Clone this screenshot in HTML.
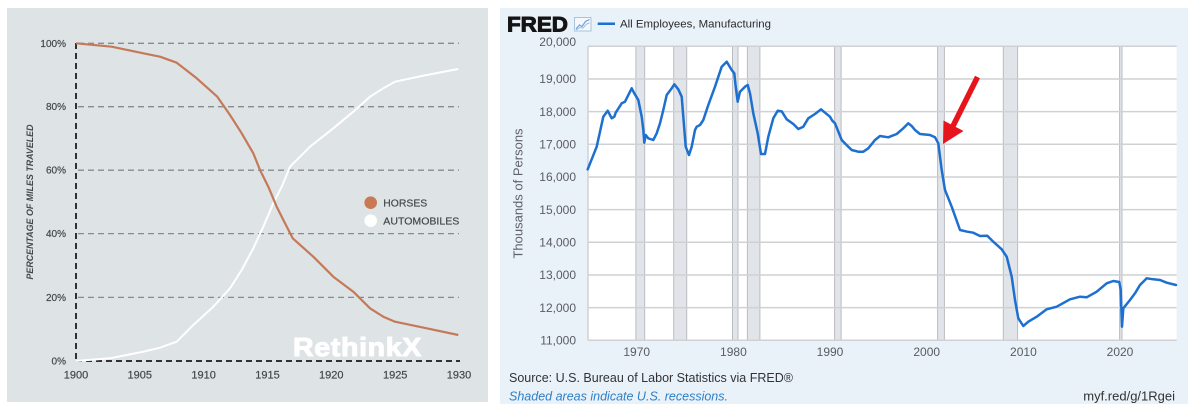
<!DOCTYPE html>
<html><head><meta charset="utf-8"><style>
html,body{margin:0;padding:0;background:#fff;}
svg{display:block;font-family:"Liberation Sans",Arial,sans-serif;}
</style></head><body>
<svg width="1200" height="412" viewBox="0 0 1200 412" xmlns="http://www.w3.org/2000/svg">
<!-- LEFT PANEL -->
<rect x="7" y="8" width="481" height="394" fill="#dee3e6"/>
<g stroke="#878c90" stroke-width="1.3" stroke-dasharray="6,4" fill="none">
<line x1="78" y1="43.3" x2="459" y2="43.3"/>
<line x1="78" y1="106.7" x2="459" y2="106.7"/>
<line x1="78" y1="170.2" x2="459" y2="170.2"/>
<line x1="78" y1="233.6" x2="459" y2="233.6"/>
<line x1="78" y1="297.4" x2="459" y2="297.4"/>
</g>
<g stroke="#2e3235" stroke-width="2" stroke-dasharray="6,4" fill="none">
<line x1="76" y1="43" x2="76" y2="361"/>
<line x1="76" y1="361" x2="460" y2="361"/>
</g>
<g fill="#45494d" font-size="10" text-anchor="end" stroke="#45494d" stroke-width="0.2">
<text x="66" y="46.8">100%</text>
<text x="66" y="110.2">80%</text>
<text x="66" y="173.7">60%</text>
<text x="66" y="237.1">40%</text>
<text x="66" y="300.9">20%</text>
<text x="66" y="364.5">0%</text>
</g>
<g fill="#45494d" font-size="11" text-anchor="middle" stroke="#45494d" stroke-width="0.2">
<text x="76" y="378.3">1900</text>
<text x="139.8" y="378.3">1905</text>
<text x="203.6" y="378.3">1910</text>
<text x="267.5" y="378.3">1915</text>
<text x="331.3" y="378.3">1920</text>
<text x="395.2" y="378.3">1925</text>
<text x="459" y="378.3">1930</text>
</g>
<text transform="translate(33,202) rotate(-90)" text-anchor="middle" font-size="8.9" font-weight="bold" font-style="italic" fill="#45494d">PERCENTAGE OF MILES TRAVELED</text>
<text x="293" y="356" font-size="26" font-weight="bold" fill="#ffffff" stroke="#ffffff" stroke-width="1" letter-spacing="0.6" textLength="129" lengthAdjust="spacingAndGlyphs">RethinkX</text>
<polyline fill="none" stroke="#ffffff" stroke-width="2" stroke-linejoin="round" points="76,361 110,358.3 143.3,351.7 160,347.7 176.7,341.7 193.3,325 213.3,306.7 230,288.3 241.7,270 253.3,248.3 263.3,226.7 273.3,203.3 281.7,186.7 290,166.7 310,146.7 333.3,128.3 353.3,111.7 370,96.7 383.3,88.3 395,81.7 426.7,75 458.3,69"/>
<polyline fill="none" stroke="#c47a58" stroke-width="2.2" stroke-linejoin="round" points="76,43.3 111.7,46.7 143.3,53.3 160,56.7 176.7,62.7 196.7,78.3 217.3,96.7 230,115 241.7,133.3 253.3,153.3 260,170 268.3,186.7 276.7,206.7 285,223.3 292.7,238.3 313.3,256.7 333.3,276.7 353.3,291.7 370,308.3 383.3,316.7 395,321.7 426.7,328.3 458.3,335"/>
<circle cx="370.7" cy="202.7" r="6.3" fill="#c87a55"/>
<circle cx="370.7" cy="220.7" r="6.3" fill="#ffffff"/>
<text x="383.3" y="206.5" font-size="10.4" fill="#45494d" stroke="#45494d" stroke-width="0.2">HORSES</text>
<text x="383.3" y="224.5" font-size="10.4" fill="#45494d" stroke="#45494d" stroke-width="0.2" textLength="76" lengthAdjust="spacingAndGlyphs">AUTOMOBILES</text>

<!-- RIGHT PANEL -->
<rect x="500" y="8" width="688" height="396" fill="#e9f1f9"/>
<rect x="588" y="46.3" width="588.7" height="294" fill="#ffffff"/>
<!-- recessions -->
<g fill="#e1e4e8" stroke="#b9bcc0" stroke-width="1">
<rect x="635.9" y="46.3" width="8.8" height="294"/>
<rect x="673.7" y="46.3" width="13" height="294"/>
<rect x="732.5" y="46.3" width="5.5" height="294"/>
<rect x="747.4" y="46.3" width="12.5" height="294"/>
<rect x="834.6" y="46.3" width="6.5" height="294"/>
<rect x="937.6" y="46.3" width="6.8" height="294"/>
<rect x="1003.3" y="46.3" width="14.3" height="294"/>
<rect x="1119.6" y="46.3" width="2.4" height="294"/>
</g>
<g stroke="#cfd1d4" stroke-width="1.5">
<line x1="588" y1="46.3" x2="1176.7" y2="46.3"/>
<line x1="588" y1="79" x2="1176.7" y2="79"/>
<line x1="588" y1="111.6" x2="1176.7" y2="111.6"/>
<line x1="588" y1="144.3" x2="1176.7" y2="144.3"/>
<line x1="588" y1="177" x2="1176.7" y2="177"/>
<line x1="588" y1="209.6" x2="1176.7" y2="209.6"/>
<line x1="588" y1="242.3" x2="1176.7" y2="242.3"/>
<line x1="588" y1="275" x2="1176.7" y2="275"/>
<line x1="588" y1="307.6" x2="1176.7" y2="307.6"/>
<line x1="588" y1="340.3" x2="1176.7" y2="340.3"/>
<line x1="588" y1="46.3" x2="588" y2="340.3"/>
</g>
<g fill="#5a5d61" font-size="12" text-anchor="end">
<text x="576" y="46">20,000</text>
<text x="576" y="83.2">19,000</text>
<text x="576" y="115.8">18,000</text>
<text x="576" y="148.5">17,000</text>
<text x="576" y="181.2">16,000</text>
<text x="576" y="213.8">15,000</text>
<text x="576" y="246.5">14,000</text>
<text x="576" y="279.2">13,000</text>
<text x="576" y="311.8">12,000</text>
<text x="576" y="344.5">11,000</text>
</g>
<g fill="#5a5d61" font-size="12" text-anchor="middle">
<text x="636.7" y="356">1970</text>
<text x="733.4" y="356">1980</text>
<text x="830" y="356">1990</text>
<text x="926.7" y="356">2000</text>
<text x="1023.4" y="356">2010</text>
<text x="1120" y="356">2020</text>
</g>
<text transform="translate(522.5,193.5) rotate(-90)" text-anchor="middle" font-size="13" fill="#606367">Thousands of Persons</text>
<polyline fill="none" stroke="#1d6fd0" stroke-width="2.5" stroke-linejoin="round" stroke-linecap="round" points="587.7,169.3 596.7,146.7 603.3,116.7 607.7,110.7 611.7,118.3 614.3,116.7 615.7,112.7 621.7,103.3 625,101.7 631.7,88.3 634.3,93.3 638.3,100 641.7,116.7 643.3,130 644.3,142.7 645.7,135 648.3,138.3 653.3,140 656.7,133.3 660,123.3 663.3,110 666.7,95 671,89.3 674.3,84.3 678.3,89.3 681.7,96.7 683.3,116.7 685.7,146.7 689,155 691.7,146.7 695,130 696.7,126.7 700,125 703.3,120 708.3,105 715,86.7 721.7,66.7 726.7,61.7 731.7,70 734.3,73.3 735.7,86.7 737.7,101.7 740,91.7 745,86.7 747.7,85 750,93.3 753.3,113.3 757.7,133.3 761,154 765,154 768.3,136.7 773.3,118.3 777.7,110.7 781.7,111.3 786.7,119.3 793.3,124 798.3,129 803.3,126.7 808.3,118.3 815,114 821,109.3 825,112.7 830,116.7 832.3,120.7 835,123.3 841.7,140 848.3,146.7 851.7,150 858.3,151.7 863.3,151.7 868.3,148.3 875,140 880,136 888.3,137.3 896.7,134 903.3,128.3 908.3,123.3 911.7,126 915,130 920,134 930,135 935,137.3 938.3,143.3 941.7,170 945,190 951.7,206.7 960,230 967.3,231.7 973.3,232.7 980,236 987.3,235.7 993.3,241.7 1001.7,249.3 1006.7,256.7 1011.7,276.7 1015,300 1018.3,318.3 1023.3,326 1028.3,321.7 1036.7,316.7 1046.7,309.3 1056.7,306.7 1070,299.3 1080,296.7 1086.7,297.3 1096.7,291.7 1106.7,283.3 1113.3,281 1119.3,282 1120.7,290 1122,326.7 1123.3,308.3 1130,300 1135,293.3 1140,285 1146.7,278.3 1153.3,279.3 1160,280 1166.7,282.7 1176,285"/>
<!-- red arrow -->
<line x1="977.5" y1="77" x2="953" y2="126" stroke="#e8141c" stroke-width="5.5"/>
<polygon points="943,144 943.5,120.5 963.5,131" fill="#e8141c"/>
<!-- header -->
<text x="507" y="31.3" font-size="21" font-weight="bold" fill="#141414" stroke="#141414" stroke-width="0.9" textLength="61" lengthAdjust="spacingAndGlyphs">FRED</text>
<rect x="574.5" y="17.5" width="16.5" height="13.5" fill="#f4f8fc" stroke="#a9c3dc" stroke-width="1"/>
<polyline points="576,29 579.5,25 582,26.5 585.5,21.5 589.5,19.5" fill="none" stroke="#6fa0d4" stroke-width="1.2"/>
<polyline points="576,30 580,27.5 583,28 586.5,24 589.5,23" fill="none" stroke="#9cbde0" stroke-width="1"/>
<line x1="597.7" y1="23.7" x2="615" y2="23.7" stroke="#1d6fd0" stroke-width="2.5"/>
<text x="620" y="27.6" font-size="11.4" fill="#2b2b2b" textLength="151" lengthAdjust="spacingAndGlyphs">All Employees, Manufacturing</text>
<!-- footer -->
<text x="509" y="381.8" font-size="13" fill="#333" textLength="284" lengthAdjust="spacingAndGlyphs">Source: U.S. Bureau of Labor Statistics via FRED®</text>
<text x="509" y="400.5" font-size="13" font-style="italic" fill="#2f7fc6" textLength="219" lengthAdjust="spacingAndGlyphs">Shaded areas indicate U.S. recessions.</text>
<text x="1175" y="400.5" font-size="13" fill="#333" text-anchor="end">myf.red/g/1Rgei</text>
</svg>
</body></html>
